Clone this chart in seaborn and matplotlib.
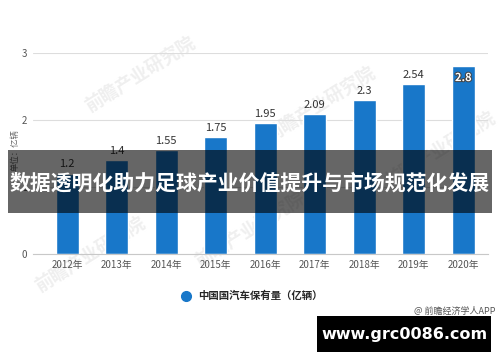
import matplotlib
matplotlib.use("Agg")
import matplotlib.pyplot as plt
import matplotlib.patheffects as pe
import seaborn as sns
import pandas as pd
from matplotlib.lines import Line2D
from matplotlib.patches import Rectangle

# 数据
years = ["2012年", "2013年", "2014年", "2015年", "2016年", "2017年", "2018年", "2019年", "2020年"]
values = [1.2, 1.4, 1.55, 1.75, 1.95, 2.09, 2.3, 2.54, 2.8]
y_ticks = [0, 1, 2, 3]
series_name = "中国国汽车保有量（亿辆）"
unit_label = "单位：亿辆"
banner_title = "数据透明化助力足球产业价值提升与市场规范化发展"
source_text = "@ 前瞻经济学人APP"
site_text = "www.grc0086.com"
watermark = "前瞻产业研究院"

bar_color = "#1877c9"
W, H = 500, 362

sns.set_style("white")
plt.rcParams['font.family'] = ['Noto Sans CJK SC', 'DejaVu Sans']

fig = plt.figure(figsize=(W / 100, H / 100), dpi=100)

# 水印（淡色，位于柱子下方）
for wx, wy in [(140, 75), (320, 105), (90, 255), (440, 150), (250, 230)]:
    fig.text(wx / W, 1 - wy / H, watermark, rotation=32, fontsize=13, fontweight='bold',
             color='#efefef', ha='center', va='center', zorder=-1)

ax = fig.add_axes([33 / W, 108 / H, 455 / W, 201 / H])
ax.patch.set_alpha(0)

df = pd.DataFrame({"year": years, "value": values})
sns.barplot(data=df, x="year", y="value", color=bar_color, width=0.47,
            saturation=1, ax=ax, zorder=2)

ax.set_ylim(0, 3)
ax.set_xlim(-0.69, 8.5)
ax.set_yticks(y_ticks)
ax.yaxis.grid(True, color='#dddddd', lw=0.8)
ax.set_axisbelow(True)
for s in ["top", "right", "left"]:
    ax.spines[s].set_visible(False)
ax.spines["bottom"].set_color('#c8c8c8')
ax.tick_params(axis='y', length=0, pad=4, labelsize=7, labelcolor='#555555')
ax.tick_params(axis='x', length=0, pad=4, labelsize=7, labelcolor='#555555')
ax.set_xticks([i - 0.5 for i in range(len(years))], minor=True)
ax.tick_params(axis='x', which='minor', length=3, color='#c8c8c8')
ax.set_xlabel("")
ax.set_ylabel("")

labels = [f"{v:g}" for v in values[:-1]] + [""]
ax.bar_label(ax.containers[0], labels=labels, padding=3, fontsize=8, color='#333333')
ax.text(len(values) - 1, values[-1] - 0.07, f"{values[-1]:g}", ha='center', va='top',
        fontsize=8, color='white', fontweight='bold',
        path_effects=[pe.withStroke(linewidth=1.5, foreground='#444444')])

fig.text(15 / W, 1 - 150 / H, unit_label, rotation=90, ha='center', va='center',
         fontsize=6, color='#666666')

# 图例
handle = Line2D([], [], marker='o', ls='', color=bar_color, markersize=7, label=series_name)
fig.legend(handles=[handle], loc='center', bbox_to_anchor=(249 / W, 1 - 296 / H),
           frameon=False, handletextpad=0.2, prop=dict(weight='bold', size=7.5))

fig.text(495 / W, 1 - 311 / H, source_text, ha='right', va='center', fontsize=6.5, color='#555555')

# 标题横幅
fig.add_artist(Rectangle((8 / W, 1 - 213 / H), 484 / W, 63 / H, transform=fig.transFigure,
                         facecolor='black', alpha=0.6, edgecolor='none', zorder=5))
fig.text(250 / W, 1 - 183 / H, banner_title, ha='center', va='center', fontsize=15,
         fontweight='bold', color='white', zorder=6)

# 网址框
fig.add_artist(Rectangle((317 / W, 1 - 352 / H), 174 / W, 36 / H, transform=fig.transFigure,
                         facecolor='black', edgecolor='none', zorder=5))
fig.text(404 / W, 1 - 334 / H, site_text, ha='center', va='center', fontsize=11.5,
         fontweight='bold', color='white', family='DejaVu Sans', zorder=6)

fig.savefig("out.png", dpi=100)
